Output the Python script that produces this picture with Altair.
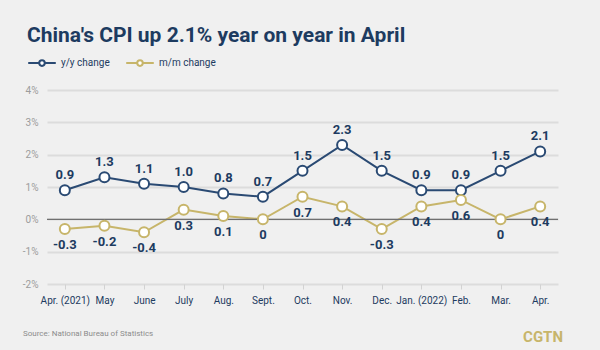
import altair as alt
import pandas as pd

months = ["Apr. (2021)", "May", "June", "July", "Aug.", "Sept.", "Oct.", "Nov.",
          "Dec.", "Jan. (2022)", "Feb.", "Mar.", "Apr."]
yoy = [0.9, 1.3, 1.1, 1.0, 0.8, 0.7, 1.5, 2.3, 1.5, 0.9, 0.9, 1.5, 2.1]
mom = [-0.3, -0.2, -0.4, 0.3, 0.1, 0, 0.7, 0.4, -0.3, 0.4, 0.6, 0, 0.4]
series = ["y/y change", "m/m change"]
colors = ["#2a4a73", "#c7b56a"]
y_ticks = [-2, -1, 0, 1, 2, 3, 4]

title_text = "China's CPI up 2.1% year on year in April"
source_text = "Source: National Bureau of Statistics"
brand_text = "CGTN"

NAVY = "#1d3b60"
BG = "#f0f0f0"
FONT = "Roboto"

rows = []
for i, m in enumerate(months):
    rows.append({"month": m, "series": series[0], "value": yoy[i],
                 "label": f"{yoy[i]:.1f}"})
    rows.append({"month": m, "series": series[1], "value": mom[i],
                 "label": "0" if mom[i] == 0 else f"{mom[i]:.1f}"})
df = pd.DataFrame(rows)

x_enc = alt.X("month:N", sort=months,
              scale=alt.Scale(type="point", padding=0.45),
              axis=alt.Axis(title=None, labelAngle=0, labelFont=FONT, labelFontSize=10,
                            labelColor=NAVY, ticks=True, tickColor="#d2d2d2", tickSize=5,
                            tickWidth=1, domain=False, grid=False, labelPadding=6))
y_axis = alt.Axis(title=None, values=y_ticks, labelExpr="datum.value + '%'",
                  grid=True, gridColor="#dcdcdc", gridWidth=2, domain=False,
                  ticks=False, labelColor="#9c9c9c", labelFont=FONT,
                  labelFontSize=10, labelPadding=9, labelOverlap=False)
y_scale = alt.Scale(domain=[-2, 4], nice=False)
y_enc = alt.Y("value:Q", scale=y_scale, axis=y_axis)

legend = alt.Legend(
    title=None, orient="none", legendX=-20, legendY=-42, direction="horizontal",
    symbolType="M-1,0L-0.2,0M0.2,0L1,0M0.2,0A0.2,0.2,0,1,1,-0.2,0A0.2,0.2,0,1,1,0.2,0Z",
    symbolSize=760, symbolStrokeWidth=2, symbolFillColor="white",
    labelFont=FONT, labelFontSize=10, labelColor=NAVY, labelOffset=4,
    columnPadding=12)

color_enc = alt.Color("series:N", scale=alt.Scale(domain=series, range=colors),
                      sort=series, legend=legend)

base = alt.Chart(df)

lines = base.mark_line(strokeWidth=2).encode(x=x_enc, y=y_enc, color=color_enc, detail="series:N")

zero = alt.Chart(pd.DataFrame({"value": [0]})).mark_rule(
    color="#707070", strokeWidth=1.3).encode(y=y_enc)

points = base.mark_point(filled=False, fill="white", fillOpacity=1, size=100, strokeWidth=2,
                         opacity=1).encode(x=x_enc, y=y_enc, color=color_enc)

lab_yoy = base.transform_filter(alt.datum.series == series[0]).mark_text(
    font=FONT, fontSize=13, fontWeight="bold", color=NAVY, dy=-15).encode(
    x=x_enc, y=y_enc, text="label:N")
lab_mom = base.transform_filter(alt.datum.series == series[1]).mark_text(
    font=FONT, fontSize=13, fontWeight="bold", color=NAVY, dy=16).encode(
    x=x_enc, y=y_enc, text="label:N")

title = alt.Chart(pd.DataFrame({"t": [title_text]})).mark_text(
    font=FONT, fontSize=21, fontWeight="bold", color=NAVY, align="left",
    baseline="alphabetic").encode(text="t:N", x=alt.value(-20), y=alt.value(-48))
source = alt.Chart(pd.DataFrame({"t": [source_text]})).mark_text(
    font=FONT, fontSize=8, color="#8c8c8c", align="left",
    baseline="middle").encode(text="t:N", x=alt.value(-24), y=alt.value(244))
brand = alt.Chart(pd.DataFrame({"t": [brand_text]})).mark_text(
    font=FONT, fontSize=15, fontWeight="bold", color="#c7b56a", align="right",
    baseline="middle").encode(text="t:N", x=alt.value(516), y=alt.value(247))

chart = alt.layer(lines, zero, points, lab_yoy, lab_mom, title, source, brand).properties(
    width=511, height=194, background=BG,
    padding={"left": 47, "top": 90, "right": 42, "bottom": 66},
    autosize=alt.AutoSizeParams(type="none")
).configure_view(stroke=None)

chart.save("out.html", embed_options={"renderer": "svg", "actions": False})
